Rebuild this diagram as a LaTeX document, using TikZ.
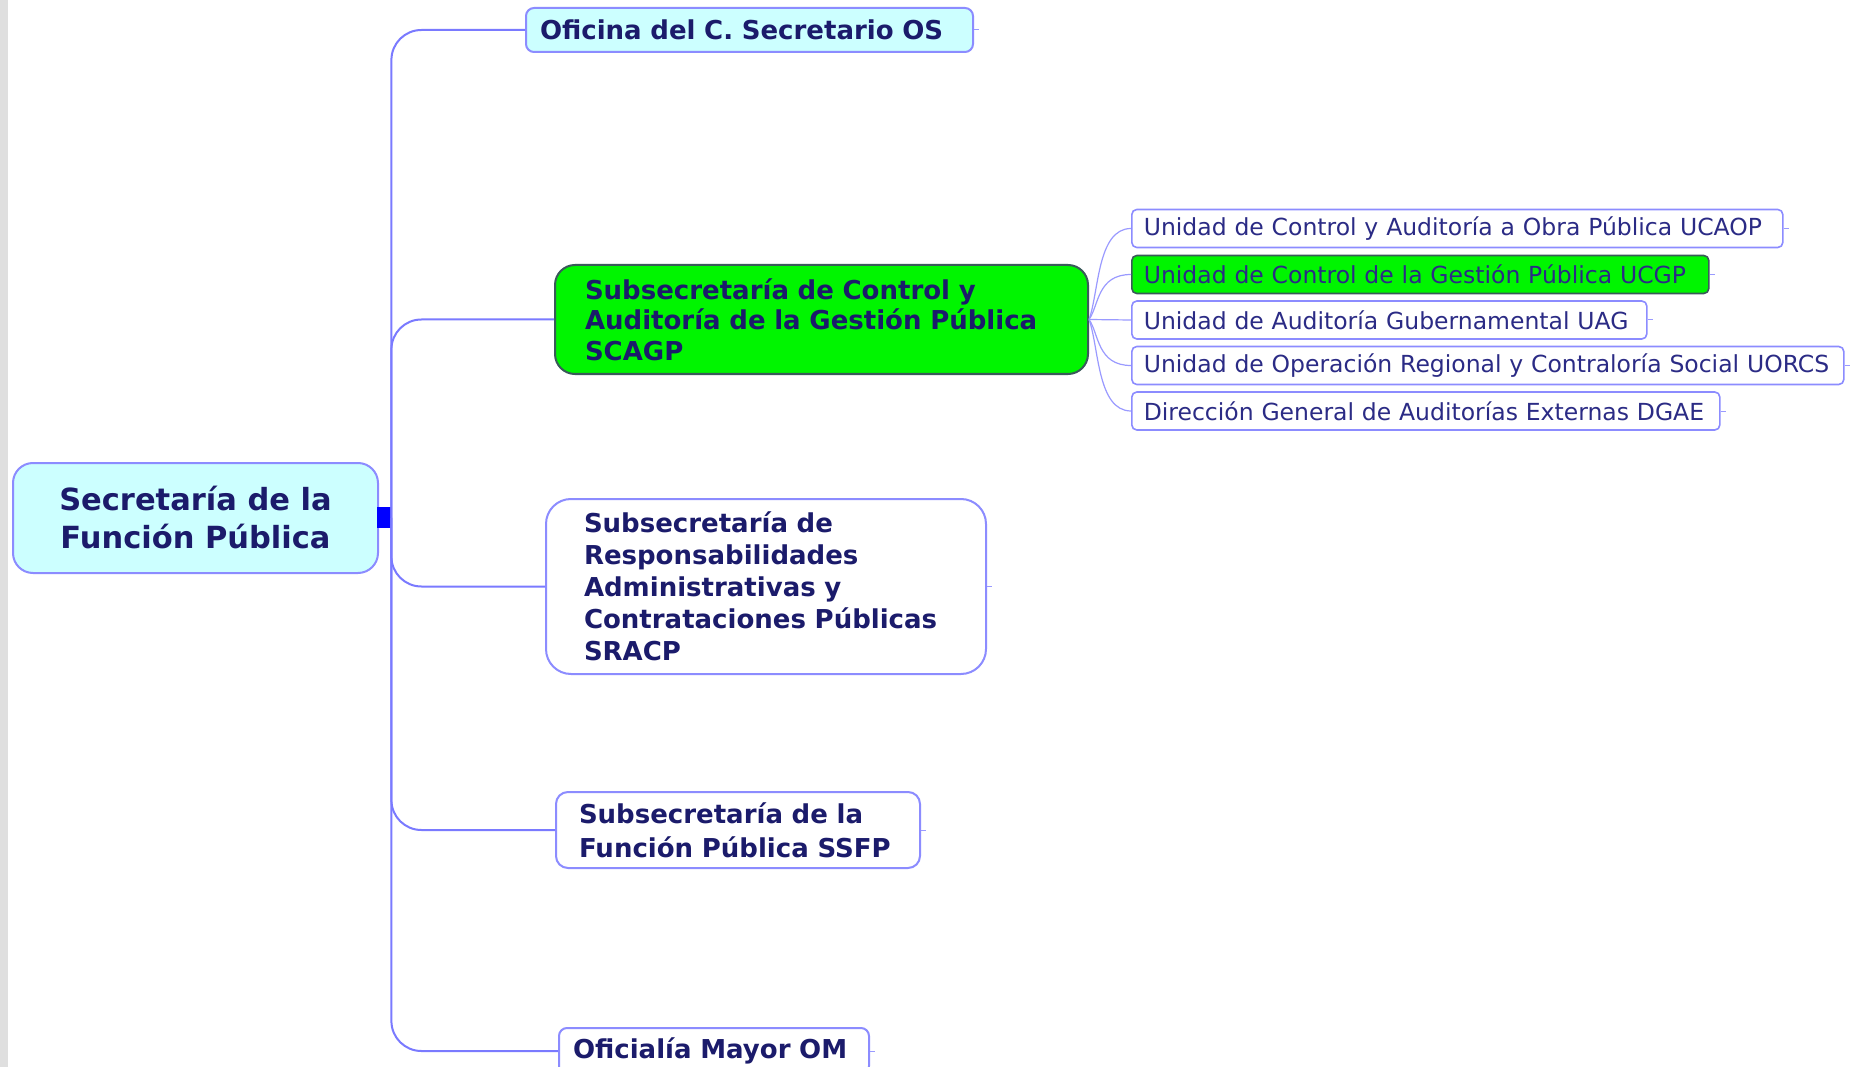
\documentclass[tikz,border=0pt]{standalone}
\usepackage{fontspec}
\setmainfont{DejaVu Sans}
\definecolor{cyanfill}{HTML}{CCFFFF}
\definecolor{bordercol}{HTML}{8C8CFF}
\definecolor{linecol}{HTML}{7A7AFF}
\definecolor{fancol}{HTML}{9A9AFF}
\definecolor{navytext}{HTML}{1B1B6B}
\definecolor{unittext}{HTML}{2B2B85}
\definecolor{greenfill}{HTML}{00F500}
\definecolor{greenborder}{HTML}{3A5A5A}
\begin{document}
\begin{tikzpicture}[x=1pt,y=-1pt,
  conn/.style={draw=linecol, line width=2pt, rounded corners=30pt},
  fanline/.style={draw=fancol, line width=1.2pt},
  stub/.style={draw=fancol, line width=1pt},
  box/.style={draw=bordercol, line width=2pt, anchor=west, inner ysep=0pt,
    align=left, text=navytext, font=\bfseries\fontsize{26}{32}\selectfont},
  unit/.style={draw=bordercol, line width=1.6pt, rounded corners=5pt, anchor=west,
    inner ysep=0pt, inner xsep=12pt, align=left, text=unittext,
    minimum height=38pt, font=\fontsize{23.5}{28}\selectfont}]
\useasboundingbox (0,0) rectangle (1856,1067);
\fill[white] (0,0) rectangle (1856,1067);
\fill[gray!25] (0,0) rectangle (8,1067);

% root
\node[draw=bordercol, line width=2pt, fill=cyanfill, rounded corners=20pt,
  minimum width=365pt, minimum height=110pt, inner sep=0pt, align=center,
  text=navytext, font=\bfseries\fontsize{30.5}{38}\selectfont]
  (root) at (195.5,518) {Secretaría de la\\Función Pública};
\node[fill=blue, minimum width=14pt, minimum height=21pt, inner sep=0pt, anchor=west]
  (sq) at (377,517.5) {};

% level 1
\node[box, fill=cyanfill, rounded corners=8pt, inner xsep=14pt, text width=419pt,
  minimum height=44pt] (os) at (525,30) {Oficina del C. Secretario OS};
\node[box, draw=greenborder, fill=greenfill, rounded corners=20pt, inner xsep=30pt,
  text width=473pt, minimum height=109pt,
  font=\bfseries\fontsize{26}{30.5}\selectfont] (scagp) at (554,319.5)
  {Subsecretaría de Control y\\Auditoría de la Gestión Pública\\SCAGP};
\node[box, fill=white, rounded corners=25pt, inner xsep=38pt, text width=364pt,
  minimum height=175pt] (sracp) at (545,586.5)
  {Subsecretaría de\\Responsabilidades\\Administrativas y\\Contrataciones Públicas\\SRACP};
\node[box, fill=white, rounded corners=12pt, inner xsep=23pt, text width=318pt,
  minimum height=76pt, font=\bfseries\fontsize{26}{34}\selectfont] (ssfp) at (555,830)
  {Subsecretaría de la\\Función Pública SSFP};
\node[box, fill=white, rounded corners=8pt, inner xsep=14pt, text width=282pt,
  minimum height=46pt] (om) at (558,1051) {Oficialía Mayor OM};

% level 2
\node[unit, fill=white, text width=627pt] (u1) at (1131,228.5)
  {\mbox{Unidad de Control y Auditoría a Obra Pública UCAOP}};
\node[unit, draw=greenborder, fill=greenfill, text width=553pt] (u2) at (1131,274.5)
  {\mbox{Unidad de Control de la Gestión Pública UCGP}};
\node[unit, fill=white, text width=491pt] (u3) at (1131,320)
  {\mbox{Unidad de Auditoría Gubernamental UAG}};
\node[unit, fill=white, text width=688pt] (u4) at (1131,365.5)
  {\mbox{Unidad de Operación Regional y Contraloría Social UORCS}};
\node[unit, fill=white, text width=564pt] (u5) at (1131,411)
  {\mbox{Dirección General de Auditorías Externas DGAE}};

% trunk connectors
\draw[conn] (sq.east) |- (os.west);
\draw[conn] (sq.east) |- (scagp.west);
\draw[conn] (sq.east) |- (sracp.west);
\draw[conn] (sq.east) |- (ssfp.west);
\draw[conn] (sq.east) |- (om.west);

% fan connectors
\draw[fanline] (scagp.east) .. controls +(10,-27) and +(-34,0) .. (u1.west);
\draw[fanline] (scagp.east) .. controls +(10,-14) and +(-34,0) .. (u2.west);
\draw[fanline] (scagp.east) -- (u3.west);
\draw[fanline] (scagp.east) .. controls +(10,14) and +(-34,0) .. (u4.west);
\draw[fanline] (scagp.east) .. controls +(10,27) and +(-34,0) .. (u5.west);

% stubs
\foreach \n in {os,sracp,ssfp,om,u1,u2,u3,u4,u5}
  \draw[stub] (\n.east) -- ++(5,0);
\end{tikzpicture}
\end{document}
